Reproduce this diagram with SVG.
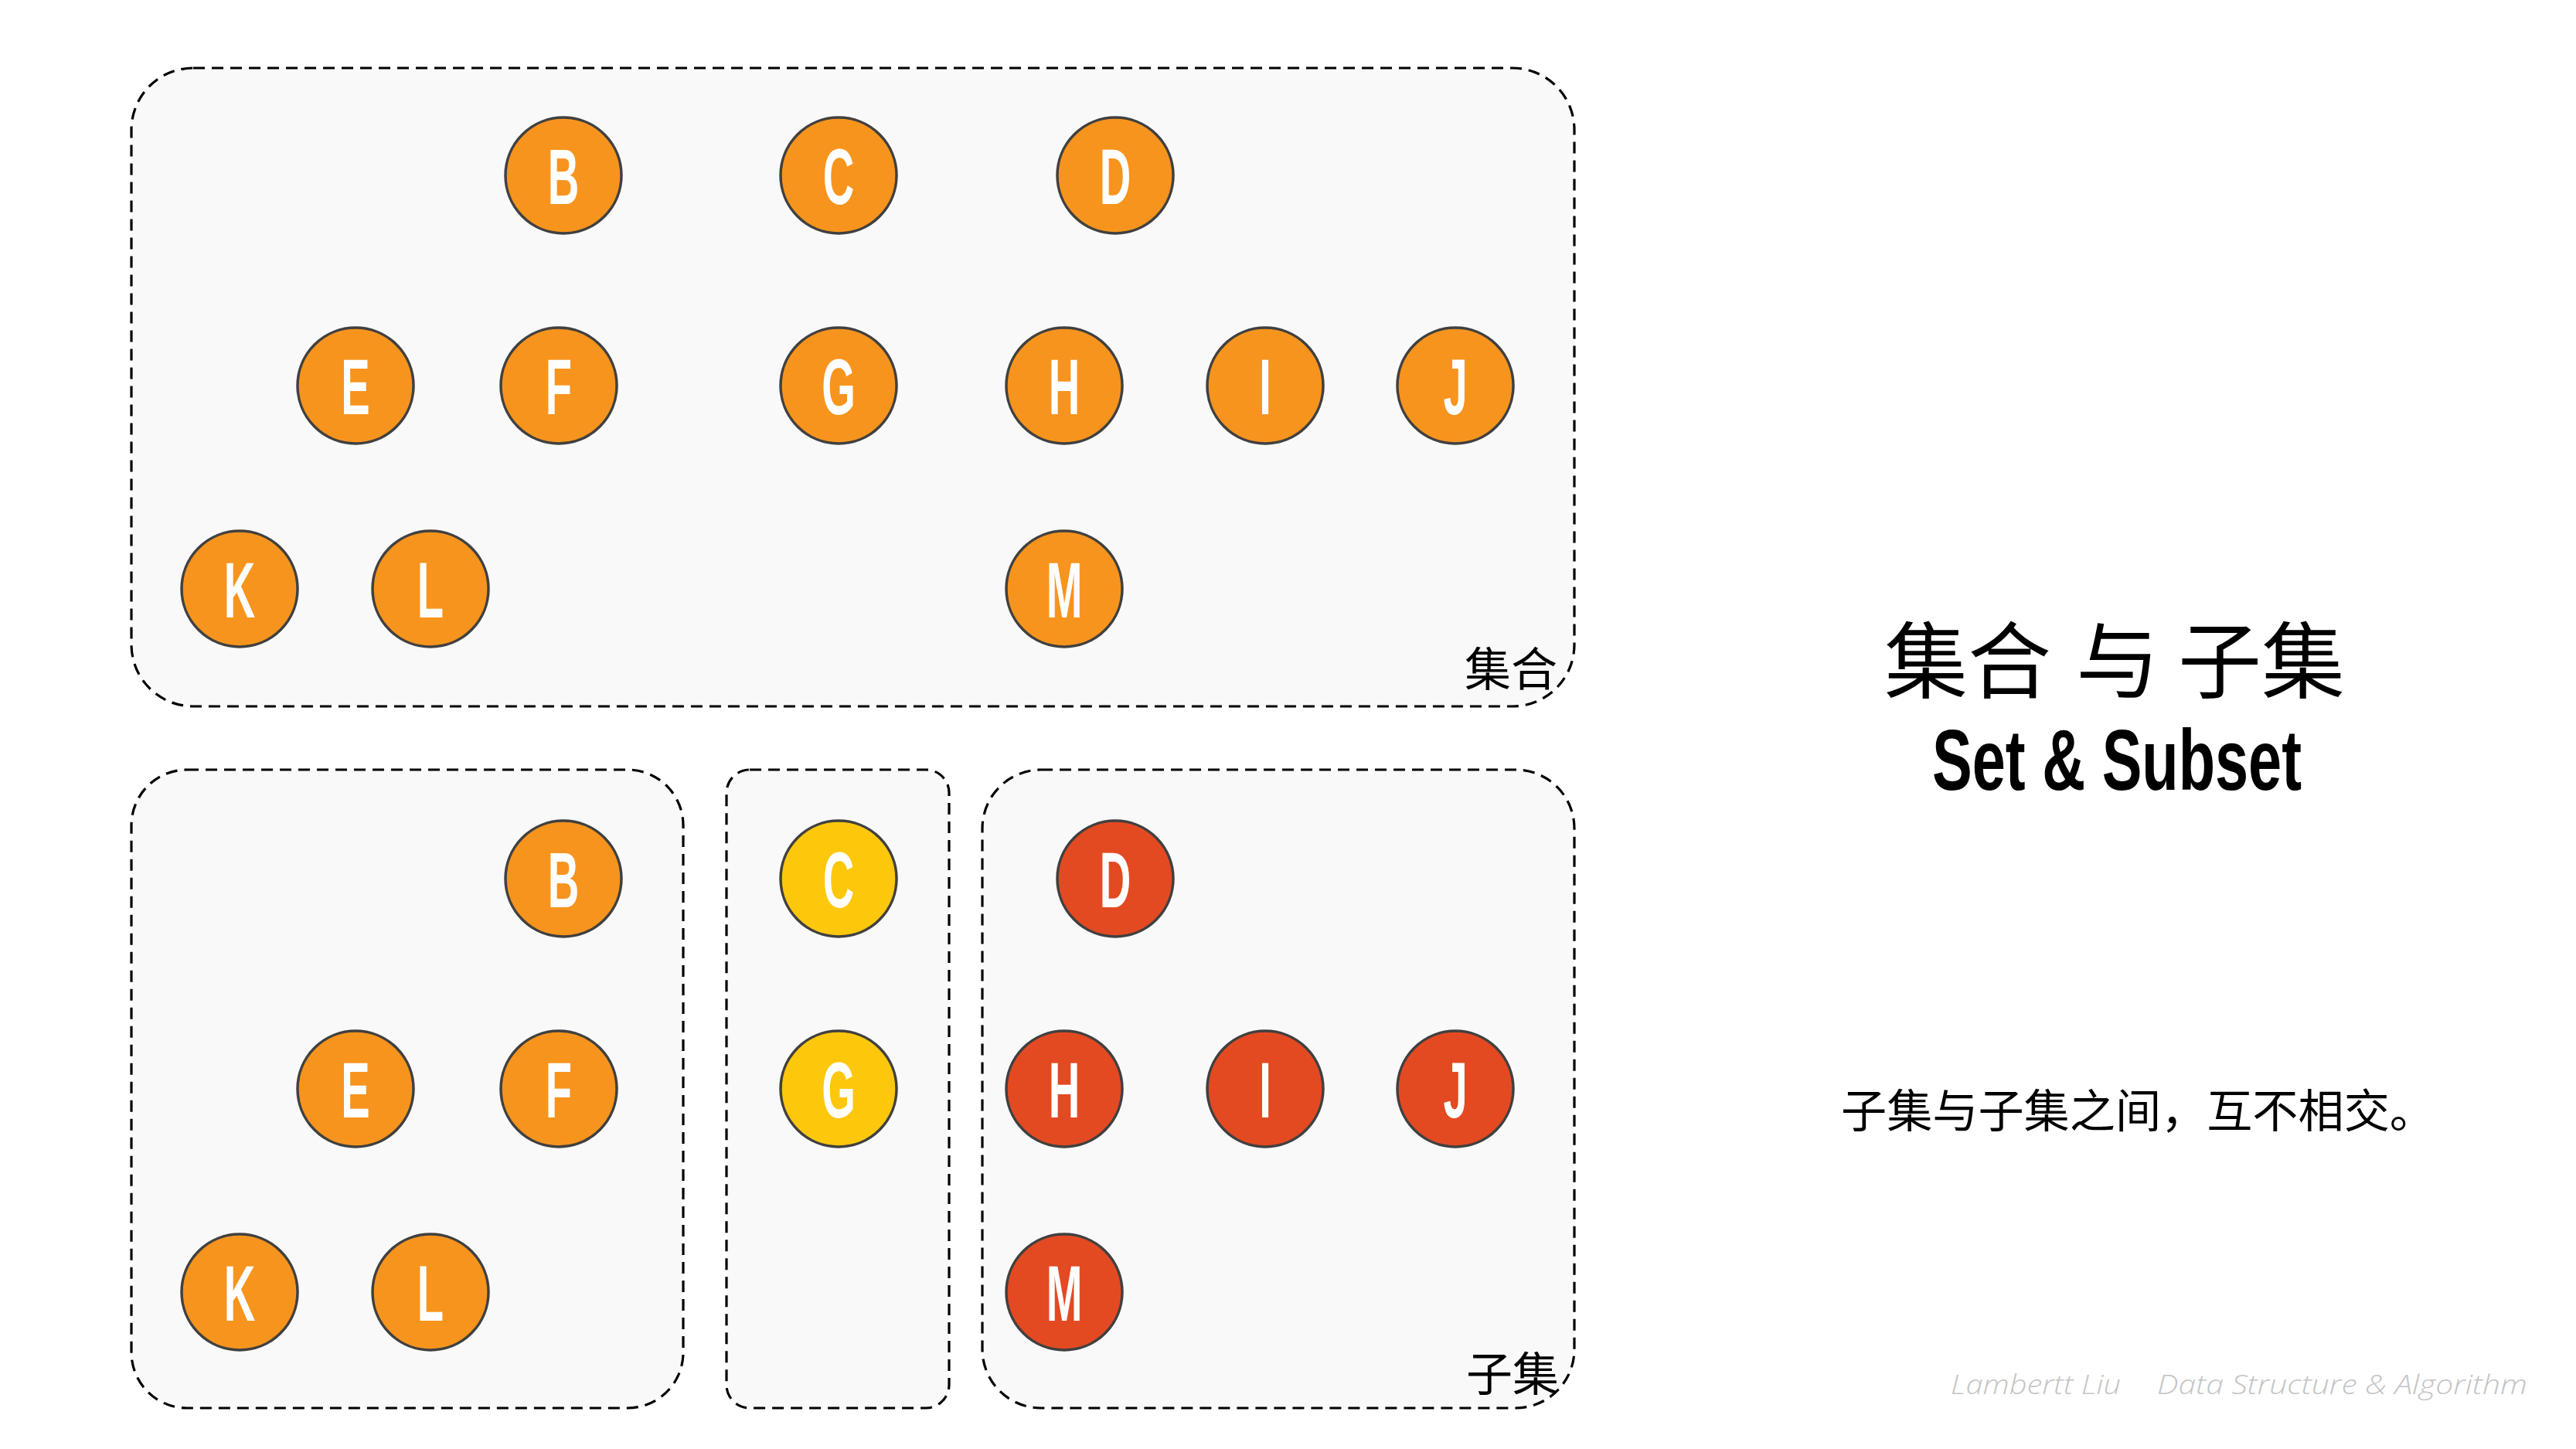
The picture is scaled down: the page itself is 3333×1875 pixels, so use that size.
<svg xmlns="http://www.w3.org/2000/svg" width="3333" height="1875" viewBox="0 0 3333 1875">
<style>
.box{fill:#F9F9F9;stroke:#000;stroke-width:3.2;stroke-dasharray:15 9}
.n circle{stroke:#404040;stroke-width:3.5}
.o circle{fill:#F7941D}
.y circle{fill:#FDC70C}
.r circle{fill:#E34A22}
.n text{font-family:"Liberation Sans",Arial,sans-serif;font-weight:bold;font-size:102px;fill:#fff;text-anchor:middle}
.cj{font-family:"Noto Sans CJK SC","Noto Sans CJK JP",sans-serif;fill:#000}
</style>
<rect width="3333" height="1875" fill="#fff"/>
<g id="set-box"><rect class="box" x="170" y="88" width="1867" height="826" rx="80" ry="80"/><text class="cj" x="1895" y="888" font-size="60">集合</text></g>
<g id="subset-box-1"><rect class="box" x="170" y="996" width="714" height="826" rx="72" ry="72"/></g>
<g id="subset-box-2"><rect class="box" x="940" y="996" width="288" height="826" rx="30" ry="30"/></g>
<g id="subset-box-3"><rect class="box" x="1271" y="996" width="766" height="826" rx="76" ry="76"/><text class="cj" x="1897" y="1800" font-size="60">子集</text></g>
<g id="connectors"/>
<g id="node-B" class="n o" transform="translate(729,227)"><circle r="75"/><text transform="scale(0.55,1)" y="37">B</text></g>
<g id="node-C" class="n o" transform="translate(1085,227)"><circle r="75"/><text transform="scale(0.55,1)" y="37">C</text></g>
<g id="node-D" class="n o" transform="translate(1443,227)"><circle r="75"/><text transform="scale(0.55,1)" y="37">D</text></g>
<g id="node-E" class="n o" transform="translate(460,499)"><circle r="75"/><text transform="scale(0.55,1)" y="37">E</text></g>
<g id="node-F" class="n o" transform="translate(723,499)"><circle r="75"/><text transform="scale(0.55,1)" y="37">F</text></g>
<g id="node-G" class="n o" transform="translate(1085,499)"><circle r="75"/><text transform="scale(0.55,1)" y="37">G</text></g>
<g id="node-H" class="n o" transform="translate(1377,499)"><circle r="75"/><text transform="scale(0.55,1)" y="37">H</text></g>
<g id="node-I" class="n o" transform="translate(1637,499)"><circle r="75"/><text transform="scale(0.55,1)" y="37">I</text></g>
<g id="node-J" class="n o" transform="translate(1883,499)"><circle r="75"/><text transform="scale(0.55,1)" y="37">J</text></g>
<g id="node-K" class="n o" transform="translate(310,762)"><circle r="75"/><text transform="scale(0.55,1)" y="37">K</text></g>
<g id="node-L" class="n o" transform="translate(557,762)"><circle r="75"/><text transform="scale(0.55,1)" y="37">L</text></g>
<g id="node-M" class="n o" transform="translate(1377,762)"><circle r="75"/><text transform="scale(0.55,1)" y="37">M</text></g>
<g id="sub-B" class="n o" transform="translate(729,1137)"><circle r="75"/><text transform="scale(0.55,1)" y="37">B</text></g>
<g id="sub-E" class="n o" transform="translate(460,1409)"><circle r="75"/><text transform="scale(0.55,1)" y="37">E</text></g>
<g id="sub-F" class="n o" transform="translate(723,1409)"><circle r="75"/><text transform="scale(0.55,1)" y="37">F</text></g>
<g id="sub-K" class="n o" transform="translate(310,1672)"><circle r="75"/><text transform="scale(0.55,1)" y="37">K</text></g>
<g id="sub-L" class="n o" transform="translate(557,1672)"><circle r="75"/><text transform="scale(0.55,1)" y="37">L</text></g>
<g id="sub-C" class="n y" transform="translate(1085,1137)"><circle r="75"/><text transform="scale(0.55,1)" y="37">C</text></g>
<g id="sub-G" class="n y" transform="translate(1085,1409)"><circle r="75"/><text transform="scale(0.55,1)" y="37">G</text></g>
<g id="sub-D" class="n r" transform="translate(1443,1137)"><circle r="75"/><text transform="scale(0.55,1)" y="37">D</text></g>
<g id="sub-H" class="n r" transform="translate(1377,1409)"><circle r="75"/><text transform="scale(0.55,1)" y="37">H</text></g>
<g id="sub-I" class="n r" transform="translate(1637,1409)"><circle r="75"/><text transform="scale(0.55,1)" y="37">I</text></g>
<g id="sub-J" class="n r" transform="translate(1883,1409)"><circle r="75"/><text transform="scale(0.55,1)" y="37">J</text></g>
<g id="sub-M" class="n r" transform="translate(1377,1672)"><circle r="75"/><text transform="scale(0.55,1)" y="37">M</text></g>
<g id="title">
<text class="cj" font-size="108" y="895"><tspan x="2438">集合</tspan><tspan x="2686">与</tspan><tspan x="2818">子集</tspan></text>
<text x="2500" y="1022" font-family="'Liberation Sans',Arial,sans-serif" font-weight="bold" font-size="112" textLength="478" lengthAdjust="spacingAndGlyphs" fill="#000">Set &amp; Subset</text>
</g>
<text id="note" class="cj" x="2382" y="1459" font-size="59" textLength="769" lengthAdjust="spacingAndGlyphs">子集与子集之间，互不相交。</text>
<g id="footer" font-family="'Open Sans','DejaVu Sans',sans-serif" font-style="italic" font-weight="300" font-size="35" fill="#C4C4C4">
<text x="2524" y="1804" textLength="220" lengthAdjust="spacingAndGlyphs">Lambertt Liu</text>
<text x="2791" y="1804" textLength="479" lengthAdjust="spacingAndGlyphs">Data Structure &amp; Algorithm</text>
</g>
</svg>
